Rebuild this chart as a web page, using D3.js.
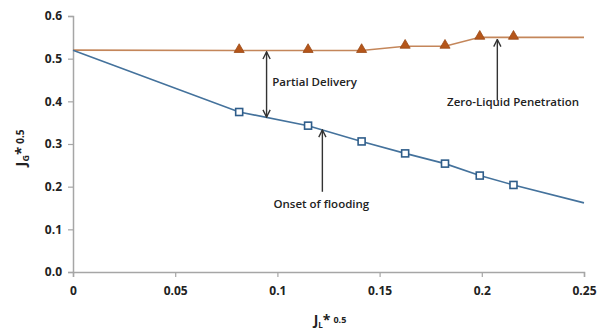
<!DOCTYPE html>
<html>
<head>
<meta charset="utf-8">
<script src="https://cdn.jsdelivr.net/npm/d3@7"></script>
<style>
  body { margin: 0; background: #fff; }
  svg text { font-family: "Open Sans", "DejaVu Sans", sans-serif; fill: #222; }
</style>
</head>
<body>
<div id="chart"></div>
<script>
// x positions shared by both curves (J_L^0.5)
const xValues = [0, 0.0813, 0.115, 0.1412, 0.1625, 0.182, 0.199, 0.2155, 0.25];
// upper curve: zero-liquid penetration / partial delivery limit
const upperValues = [0.52, 0.519, 0.519, 0.519, 0.529, 0.529, 0.55, 0.55, 0.55];
// lower curve: onset of flooding
const lowerValues = [0.52, 0.375, 0.343, 0.306, 0.278, 0.254, 0.226, 0.204, 0.162];
// first and last points are line ends only, no marker
const markerIndex = [1, 2, 3, 4, 5, 6, 7];

const xTicks = [0, 0.05, 0.1, 0.15, 0.2, 0.25];
const yTicks = [0, 0.1, 0.2, 0.3, 0.4, 0.5, 0.6];

const W = 608, H = 329;
const margin = { top: 16, right: 24, bottom: 57, left: 73 };
const width = W - margin.left - margin.right;
const height = H - margin.top - margin.bottom;

const svg = d3.select('#chart').append('svg')
  .attr('width', W).attr('height', H);
const g = svg.append('g')
  .attr('transform', `translate(${margin.left},${margin.top})`);

const x = d3.scaleLinear().domain([0, 0.25]).range([0, width]);
const y = d3.scaleLinear().domain([0, 0.6]).range([height, 0]);

// axes
const xAxis = g.append('g').attr('transform', `translate(0,${height})`)
  .call(d3.axisBottom(x).tickValues(xTicks).tickSize(5).tickPadding(9)
    .tickFormat((d) => (d === 0 ? '0' : String(d))));
const yAxis = g.append('g')
  .call(d3.axisLeft(y).tickValues(yTicks).tickSize(5).tickPadding(6)
    .tickFormat(d3.format('.1f')));
[xAxis, yAxis].forEach((a) => {
  a.select('.domain').attr('stroke', '#a6a6a6').attr('stroke-width', 1.5);
  a.selectAll('.tick line').attr('stroke', '#a6a6a6').attr('stroke-width', 1.2);
  a.selectAll('.tick text').attr('font-size', 12).attr('font-weight', 'bold')
    .attr('fill', '#222');
});

const line = d3.line().x((d) => x(d[0])).y((d) => y(d[1]));
const upper = xValues.map((v, i) => [v, upperValues[i]]);
const lower = xValues.map((v, i) => [v, lowerValues[i]]);

g.append('path').datum(upper).attr('d', line)
  .attr('fill', 'none').attr('stroke', '#c4865a').attr('stroke-width', 1.6);
g.append('path').datum(lower).attr('d', line)
  .attr('fill', 'none').attr('stroke', '#44729c').attr('stroke-width', 1.6);

// triangles
g.selectAll('.tri').data(markerIndex.map((i) => upper[i])).enter()
  .append('path').attr('class', 'tri')
  .attr('transform', (d) => `translate(${x(d[0])},${y(d[1]) - 1})`)
  .attr('d', d3.symbol(d3.symbolTriangle, 44))
  .attr('fill', '#b5561a').attr('stroke', '#9a4a18').attr('stroke-width', 0.8);

// squares
g.selectAll('.sq').data(markerIndex.map((i) => lower[i])).enter()
  .append('rect').attr('class', 'sq')
  .attr('x', (d) => x(d[0]) - 3.5).attr('y', (d) => y(d[1]) - 3.5)
  .attr('width', 7).attr('height', 7)
  .attr('fill', '#fff').attr('stroke', '#2f5d8a').attr('stroke-width', 1.6);

// annotations
const defs = svg.append('defs');
defs.append('marker').attr('id', 'ah').attr('viewBox', '0 0 10 10')
  .attr('refX', 9).attr('refY', 5).attr('markerWidth', 9).attr('markerHeight', 9)
  .attr('markerUnits', 'userSpaceOnUse').attr('orient', 'auto-start-reverse')
  .append('path').attr('d', 'M1,1 L9,5 L1,9').attr('fill', 'none')
  .attr('stroke', '#333').attr('stroke-width', 1.5);

const arrows = [
  { x: 0.0947, y1: 0.363, y2: 0.516, both: true },
  { x: 0.122, y1: 0.188, y2: 0.333, both: false },
  { x: 0.2076, y1: 0.402, y2: 0.545, both: false },
];
arrows.forEach((a) => {
  const l = g.append('line')
    .attr('x1', x(a.x)).attr('x2', x(a.x))
    .attr('y1', y(a.y1)).attr('y2', y(a.y2))
    .attr('stroke', '#333').attr('stroke-width', 1.4)
    .attr('marker-end', 'url(#ah)');
  if (a.both) l.attr('marker-start', 'url(#ah)');
});

const notes = [
  { text: 'Partial Delivery', x: 0.0975, y: 0.435, anchor: 'start' },
  { text: 'Onset of flooding', x: 0.1215, y: 0.149, anchor: 'middle' },
  { text: 'Zero-Liquid Penetration', x: 0.2153, y: 0.388, anchor: 'middle' },
];
g.selectAll('.note').data(notes).enter().append('text')
  .attr('x', (d) => x(d.x)).attr('y', (d) => y(d.y))
  .attr('text-anchor', (d) => d.anchor)
  .attr('font-size', 11.5).attr('font-weight', 600)
  .text((d) => d.text);

// axis titles
const xt = svg.append('text').attr('x', 330).attr('y', 325)
  .attr('text-anchor', 'middle').attr('font-weight', 'bold');
xt.append('tspan').attr('font-size', 14).text('J');
xt.append('tspan').attr('font-size', 8).attr('dy', 3).text('L');
xt.append('tspan').attr('font-size', 14).attr('dy', -3).text('*');
xt.append('tspan').attr('font-size', 9).attr('dx', 3).attr('dy', -2).text('0.5');

const yt = svg.append('text')
  .attr('transform', 'translate(26,148) rotate(-90)')
  .attr('text-anchor', 'middle').attr('font-weight', 'bold');
yt.append('tspan').attr('font-size', 15).text('J');
yt.append('tspan').attr('font-size', 9).attr('dy', 3).text('G');
yt.append('tspan').attr('font-size', 15).attr('dy', -3).text('*');
yt.append('tspan').attr('font-size', 10).attr('dx', 3).attr('dy', -2).text('0.5');
</script>
</body>
</html>
